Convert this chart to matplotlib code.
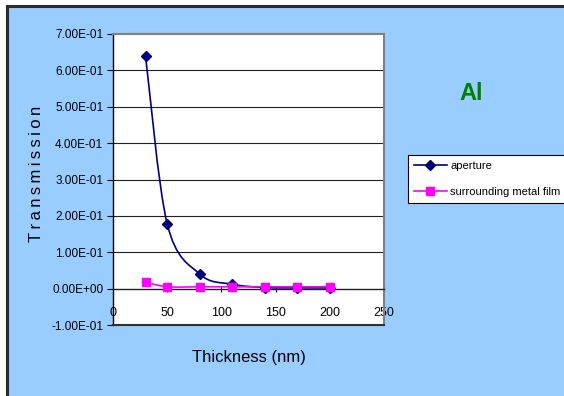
import matplotlib
matplotlib.use("Agg")
import matplotlib.pyplot as plt
from matplotlib.path import Path
from matplotlib.patches import PathPatch, Rectangle
import numpy as np

plt.rcParams['font.family'] = ['Liberation Sans Narrow', 'Liberation Sans', 'DejaVu Sans']

# Thickness (nm) and transmission values
thickness = [30, 50, 80, 110, 140, 170, 200]
aperture = [0.64, 0.178, 0.040, 0.012, 0.003, 0.002, 0.002]
metal_film = [0.018, 0.005, 0.005, 0.005, 0.005, 0.005, 0.005]

y_ticks = [-0.1, 0.0, 0.1, 0.2, 0.3, 0.4, 0.5, 0.6, 0.7]
y_tick_labels = ["-1.00E-01", "0.00E+00", "1.00E-01", "2.00E-01", "3.00E-01",
                 "4.00E-01", "5.00E-01", "6.00E-01", "7.00E-01"]
x_ticks = [0, 50, 100, 150, 200, 250]

NAVY = "#000080"
MAGENTA = "#FF00FF"
BG = "#99CCFF"


def smooth_path(xs, ys, tension=1/6):
    """Cubic Bezier path through the points (Catmull-Rom style control points)."""
    pts = np.column_stack([xs, ys]).astype(float)
    verts = [tuple(pts[0])]
    codes = [Path.MOVETO]
    n = len(pts)
    for i in range(n - 1):
        p0 = pts[i - 1] if i > 0 else pts[i]
        p1 = pts[i]
        p2 = pts[i + 1]
        p3 = pts[i + 2] if i + 2 < n else pts[i + 1]
        c1 = p1 + (p2 - p0) * tension
        c2 = p2 - (p3 - p1) * tension
        verts += [tuple(c1), tuple(c2), tuple(p2)]
        codes += [Path.CURVE4] * 3
    return Path(verts, codes)


fig = plt.figure(figsize=(5.64, 3.96), dpi=100)
fig.patch.set_facecolor("white")

# Chart background frame
fig.patches.append(Rectangle((7 / 564, 0), 1, 1 - 6 / 396, transform=fig.transFigure,
                             facecolor=BG, edgecolor="none", zorder=-10))
fig.lines.append(plt.Line2D([7 / 564, 7 / 564], [0, 1 - 5.5 / 396], transform=fig.transFigure,
                            color="#2b2b2b", lw=2.2, zorder=-9))
fig.lines.append(plt.Line2D([7 / 564, 1], [1 - 5.5 / 396, 1 - 5.5 / 396], transform=fig.transFigure,
                            color="#2b2b2b", lw=2.2, zorder=-9))

ax = fig.add_axes([113 / 564, 1 - 325 / 396, (384 - 113) / 564, (325 - 34) / 396])
ax.set_facecolor("white")
ax.set_xlim(0, 250)
ax.set_ylim(-0.1, 0.7)

# Horizontal gridlines
for yv in y_ticks[2:-1]:
    ax.axhline(yv, color="#202020", lw=0.8, zorder=1)

# Plot-area border
ax.spines['top'].set_color("#808080")
ax.spines['right'].set_color("#808080")
ax.spines['top'].set_linewidth(1.5)
ax.spines['right'].set_linewidth(1.5)
ax.spines['left'].set_color("black")
ax.spines['left'].set_linewidth(1.0)
ax.spines['bottom'].set_position(('data', 0))
ax.spines['bottom'].set_color("#202020")
ax.spines['bottom'].set_linewidth(1.0)
ax.axhline(-0.1, color="#303030", lw=1.5, zorder=3, clip_on=False)

ax.set_yticks(y_ticks)
ax.set_yticklabels(y_tick_labels)
ax.set_xticks(x_ticks)
ax.set_xticklabels([str(v) for v in x_ticks])
ax.tick_params(axis='y', direction='out', length=4, width=0.8, pad=3, labelsize=8.5)
ax.tick_params(axis='x', direction='inout', length=5, width=0.8, pad=11, labelsize=9)

# Aperture series: smoothed line with diamond markers
ax.add_patch(PathPatch(smooth_path(thickness, aperture), facecolor="none",
                       edgecolor=NAVY, lw=1.2, zorder=4))
ax.plot(thickness, aperture, linestyle="none", marker="D", markersize=5,
        color=NAVY, zorder=5)

# Surrounding metal film series: smoothed line with square markers
ax.add_patch(PathPatch(smooth_path(thickness, metal_film), facecolor="none",
                       edgecolor=MAGENTA, lw=1.2, zorder=4))
ax.plot(thickness, metal_film, linestyle="none", marker="s", markersize=6,
        color=MAGENTA, zorder=5)

# Legend entries
h1, = ax.plot([], [], color=NAVY, marker="D", markersize=5, lw=1.2)
h2, = ax.plot([], [], color=MAGENTA, marker="s", markersize=6, lw=1.2)
leg = fig.legend([h1, h2], ["aperture", "surrounding metal film"],
                 loc="upper left", bbox_to_anchor=(408 / 564, 1 - 155 / 396),
                 fontsize=8, frameon=True, fancybox=False, borderpad=0.5,
                 handlelength=3.0, handletextpad=0.3, labelspacing=1.5,
                 borderaxespad=0, framealpha=1)
leg.get_frame().set_edgecolor("black")
leg.get_frame().set_linewidth(0.8)
leg.get_frame().set_facecolor("white")

ax.set_ylabel("T\u2009r\u2009a\u2009n\u2009s\u2009m\u2009i\u2009s\u2009s\u2009i\u2009o\u2009n",
              fontsize=12)
ax.yaxis.set_label_coords(-0.255, 0.52)
ax.set_xlabel("Thickness (nm)", fontsize=12)
ax.xaxis.set_label_coords(0.5, -0.085)

fig.text(471 / 564, 1 - 93 / 396, "Al", color="#008000", fontsize=17,
         fontweight="bold", family=["Liberation Sans", "DejaVu Sans"],
         ha="center", va="center")

fig.savefig("out.png", dpi=100)
